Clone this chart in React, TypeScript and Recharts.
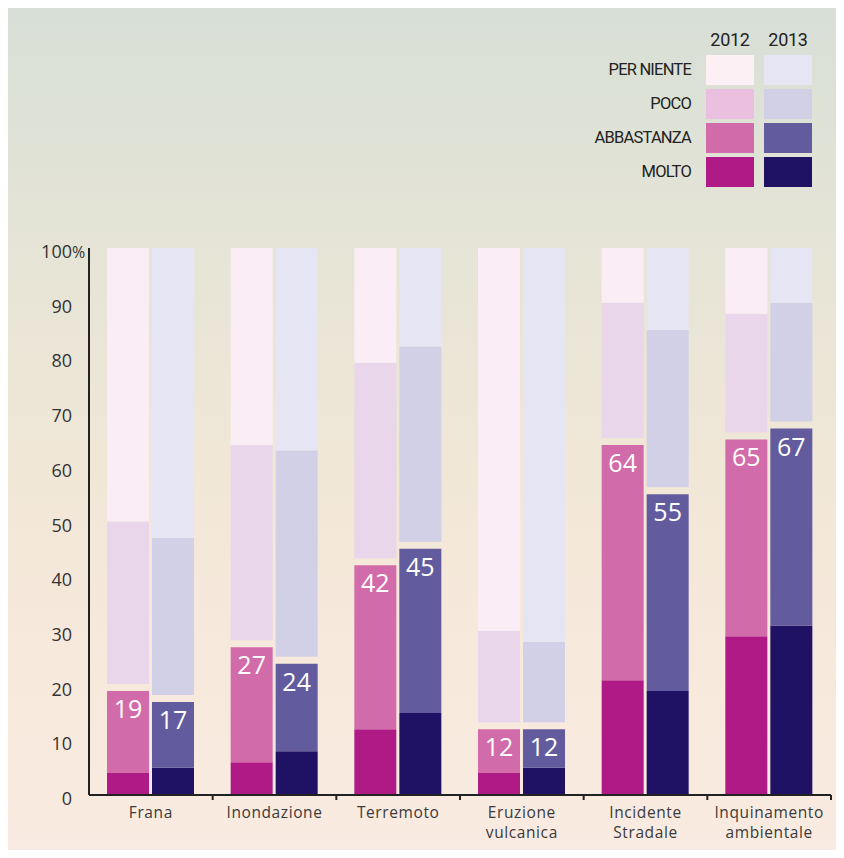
import { Bar, BarChart, LabelList, XAxis, YAxis } from "recharts"

const categories = [
  ["Frana"],
  ["Inondazione"],
  ["Terremoto"],
  ["Eruzione", "vulcanica"],
  ["Incidente", "Stradale"],
  ["Inquinamento", "ambientale"],
]

const molto2012 = [4, 6, 12, 4, 21, 29]
const abbastanza2012 = [15, 21, 30, 8, 43, 36]
const poco2012 = [31, 37, 37, 18, 26, 23]
const perNiente2012 = [50, 36, 21, 70, 10, 12]

const molto2013 = [5, 8, 15, 5, 19, 31]
const abbastanza2013 = [12, 16, 30, 7, 36, 36]
const poco2013 = [30, 39, 37, 16, 30, 23]
const perNiente2013 = [53, 37, 18, 72, 15, 10]

const yTicks = [0, 10, 20, 30, 40, 50, 60, 70, 80, 90, 100]
const years = ["2012", "2013"]
const legendLabels = ["PER NIENTE", "POCO", "ABBASTANZA", "MOLTO"]

const C12 = { n: "#fbedf5", p: "#e9d6ea", a: "#d26ba9", m: "#b01a86" }
const C13 = { n: "#e6e5f3", p: "#d1d0e7", a: "#625b9d", m: "#1f1265" }
const LEGEND12 = ["#fdf0f5", "#ebbfe0", "#d26ba9", "#b01a86"]
const LEGEND13 = ["#e6e5f3", "#d1d0e7", "#625b9d", "#1f1265"]

const W = 836
const H = 850
const MARGIN = { top: 240, right: 13, bottom: 13, left: 21 }
const Y_W = 60
const PLOT_W = W - MARGIN.left - MARGIN.right - Y_W
const BAND = PLOT_W / categories.length
const GAP = 7
const FONT = "'Open Sans', 'Noto Sans', sans-serif"

const data = categories.map((lines, i) => ({
  name: lines.join(" "),
  m12: molto2012[i],
  a12: abbastanza2012[i],
  p12: poco2012[i],
  n12: perNiente2012[i],
  m13: molto2013[i],
  a13: abbastanza2013[i],
  p13: poco2013[i],
  n13: perNiente2013[i],
}))

// POCO sits a few pixels above the labelled block
function GappedRect(props: any) {
  const { x, y, width, height, fill } = props
  return <rect x={x} y={y} width={width} height={Math.max(0, height - GAP)} fill={fill} />
}

function XTick({ x, y, index }: any) {
  const lines = categories[index] || []
  return (
    <g>
      <line x1={x + BAND / 2} x2={x + BAND / 2} y1={y} y2={y + 5} stroke="#222" strokeWidth={2} />
      {lines.map((l: string, k: number) => (
        <text
          key={k}
          x={x}
          y={y + 23 + k * 20}
          textAnchor="middle"
          fontSize={15.5}
          letterSpacing={0.6}
          fill="#3a3a3a"
          fontFamily={FONT}
        >
          {l}
        </text>
      ))}
    </g>
  )
}

function YTick({ x, y, payload }: any) {
  return (
    <g>
      <text x={x - 17} y={y + 10} textAnchor="end" fontSize={18} fill="#333" fontFamily={FONT}>
        {payload.value}
      </text>
      {payload.value === 100 && (
        <text x={x - 17} y={y + 10} fontSize={16} letterSpacing={-0.5} fill="#333" fontFamily={FONT}>
          %
        </text>
      )}
    </g>
  )
}

function totalLabel(totals: number[]) {
  return (props: any) => {
    const { x, y, width, index } = props
    return (
      <text
        x={x + width / 2}
        y={y + 17}
        textAnchor="middle"
        dominantBaseline="central"
        fontSize={25}
        fill="#fff"
        fontFamily={FONT}
      >
        {totals[index]}
      </text>
    )
  }
}

const totals2012 = molto2012.map((v, i) => v + abbastanza2012[i])
const totals2013 = molto2013.map((v, i) => v + abbastanza2013[i])

function Legend() {
  const legendFont = "Roboto, 'Noto Sans', sans-serif"
  return (
    <div style={{ position: "absolute", left: 0, top: 0, width: W, height: 200, pointerEvents: "none" }}>
      {years.map((yr, j) => (
        <div
          key={yr}
          style={{
            position: "absolute",
            left: 698 + j * 58,
            top: 20,
            width: 48,
            textAlign: "center",
            fontFamily: legendFont,
            fontSize: 18,
            lineHeight: "24px",
            color: "#222",
            letterSpacing: -0.3,
          }}
        >
          {yr}
        </div>
      ))}
      {legendLabels.map((lab, i) => (
        <div key={lab}>
          <div
            style={{
              position: "absolute",
              right: W - 683,
              top: 47 + i * 34,
              height: 30,
              lineHeight: "30px",
              fontFamily: legendFont,
              fontSize: 16.5,
              color: "#222",
              letterSpacing: -0.8,
              whiteSpace: "nowrap",
            }}
          >
            {lab}
          </div>
          <div style={{ position: "absolute", left: 698, top: 47 + i * 34, width: 48, height: 30, background: LEGEND12[i] }} />
          <div style={{ position: "absolute", left: 756, top: 47 + i * 34, width: 48, height: 30, background: LEGEND13[i] }} />
        </div>
      ))}
    </div>
  )
}

export default function App() {
  return (
    <div style={{ margin: -8, padding: "8px 0 0 8px", width: 844, height: 858, background: "#e6e6e6", boxSizing: "border-box" }}>
      <div
        style={{
          position: "relative",
          width: W,
          height: H,
          background: "linear-gradient(180deg, #d8dfd6 0%, #e4e4d6 25%, #f1e7d7 55%, #f8e9dd 80%, #faebe2 100%)",
        }}
      >
        <BarChart width={W} height={H} data={data} margin={MARGIN} barSize={42} barGap={3}>
          <XAxis
            dataKey="name"
            axisLine={{ stroke: "#222", strokeWidth: 2 }}
            tickLine={false}
            tickSize={0}
            tickMargin={0}
            height={50}
            tick={<XTick />}
            interval={0}
          />
          <YAxis
            type="number"
            domain={[0, 100]}
            ticks={yTicks}
            axisLine={{ stroke: "#222", strokeWidth: 2 }}
            tickLine={false}
            tickSize={0}
            tickMargin={0}
            width={Y_W}
            tick={<YTick />}
            interval={0}
          />
          <Bar dataKey="m12" stackId="a" fill={C12.m} isAnimationActive={false} />
          <Bar dataKey="a12" stackId="a" fill={C12.a} isAnimationActive={false}>
            <LabelList dataKey="a12" content={totalLabel(totals2012)} />
          </Bar>
          <Bar dataKey="p12" stackId="a" fill={C12.p} shape={<GappedRect />} isAnimationActive={false} />
          <Bar dataKey="n12" stackId="a" fill={C12.n} isAnimationActive={false} />
          <Bar dataKey="m13" stackId="b" fill={C13.m} isAnimationActive={false} />
          <Bar dataKey="a13" stackId="b" fill={C13.a} isAnimationActive={false}>
            <LabelList dataKey="a13" content={totalLabel(totals2013)} />
          </Bar>
          <Bar dataKey="p13" stackId="b" fill={C13.p} shape={<GappedRect />} isAnimationActive={false} />
          <Bar dataKey="n13" stackId="b" fill={C13.n} isAnimationActive={false} />
        </BarChart>
        <Legend />
      </div>
    </div>
  )
}
